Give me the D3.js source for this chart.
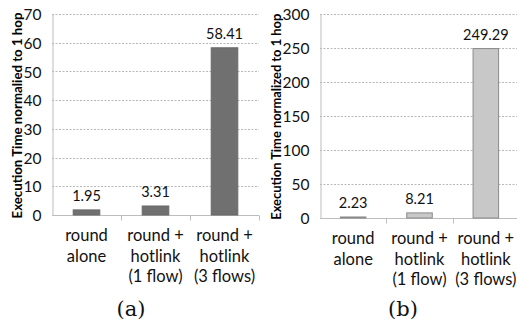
<!DOCTYPE html>
<html>
<head>
<meta charset="utf-8">
<script src="https://cdn.jsdelivr.net/npm/d3@7"></script>
<style>
  html, body { margin: 0; padding: 0; background: #fff; }
  svg text { font-family: Lato, "Open Sans", sans-serif; }
</style>
</head>
<body>
<svg id="chart" width="517" height="328"></svg>
<script>
// Category labels (multi-line) shared by both panels
const categories = ["round alone", "round + hotlink (1 flow)", "round + hotlink (3 flows)"];
const categoryLines = [["round", "alone"], ["round +", "hotlink", "(1 flow)"], ["round +", "hotlink", "(3 flows)"]];

// Panel (a) values and ticks
const valuesA = [1.95, 3.31, 58.41];
const ticksA = [0, 10, 20, 30, 40, 50, 60, 70];

// Panel (b) values and ticks
const valuesB = [2.23, 8.21, 249.29];
const ticksB = [0, 50, 100, 150, 200, 250, 300];

const svg = d3.select("#chart");

function drawPanel(opts) {
  const g = svg.append("g");
  const x = d3.scaleBand().domain(categories).range([opts.left, opts.right]).paddingInner(0.6).paddingOuter(0.3);
  const xEdge = d3.scaleBand().domain(categories).range([opts.left, opts.right]);
  const y = d3.scaleLinear().domain([0, opts.max]).range([opts.bottom, opts.top]);

  // dashed horizontal grid
  g.append("g").selectAll("line").data(opts.ticks.filter(t => t > 0)).join("line")
    .attr("x1", opts.left).attr("x2", opts.right)
    .attr("y1", d => Math.round(y(d)) + 0.5).attr("y2", d => Math.round(y(d)) + 0.5)
    .attr("stroke", "#b8b8b8").attr("stroke-width", 1).attr("stroke-dasharray", "2,1.5");

  // y axis
  const yAxis = g.append("g").attr("transform", `translate(${opts.left + 0.5},0)`)
    .call(d3.axisLeft(y).tickValues(opts.ticks).tickSize(0).tickPadding(11));
  yAxis.select(".domain").attr("stroke", "#bdbdbd");
  yAxis.selectAll("text").attr("font-size", 15.5).attr("fill", "#111").attr("dy", "0.36em");

  // x baseline and category separators
  const base = Math.round(opts.bottom) + 0.5;
  g.append("line").attr("x1", opts.left).attr("x2", opts.right).attr("y1", base).attr("y2", base)
    .attr("stroke", "#bdbdbd");
  g.append("g").selectAll("line").data(categories).join("line")
    .attr("x1", d => Math.round(xEdge(d) + xEdge.bandwidth()) + 0.5)
    .attr("x2", d => Math.round(xEdge(d) + xEdge.bandwidth()) + 0.5)
    .attr("y1", base).attr("y2", base + 5).attr("stroke", "#bdbdbd");

  // bars
  g.append("g").selectAll("rect").data(opts.values).join("rect")
    .attr("x", (d, i) => x(categories[i]) + 0.5)
    .attr("y", d => y(d) + 0.5)
    .attr("width", x.bandwidth() - 1)
    .attr("height", d => Math.max(0, opts.bottom - y(d) - 0.5))
    .attr("fill", opts.fill).attr("stroke", opts.stroke).attr("stroke-width", 1);

  // value labels
  g.append("g").selectAll("text").data(opts.values).join("text")
    .attr("x", (d, i) => x(categories[i]) + x.bandwidth() / 2)
    .attr("y", d => y(d) - 8)
    .attr("text-anchor", "middle").attr("font-size", 14.5).attr("fill", "#111")
    .text(d => d.toFixed(2));

  // category labels
  const cat = g.append("g").selectAll("text").data(categoryLines).join("text")
    .attr("x", (d, i) => xEdge(categories[i]) + xEdge.bandwidth() / 2)
    .attr("y", opts.bottom + 26)
    .attr("text-anchor", "middle").attr("font-size", 16.5).attr("fill", "#111");
  cat.selectAll("tspan").data(d => d).join("tspan")
    .attr("x", function () { return this.parentNode.getAttribute("x"); })
    .attr("dy", (d, i) => i === 0 ? 0 : 20.5)
    .text(d => d);

  // y axis title
  g.append("text")
    .attr("transform", `translate(${opts.titleX},${(opts.top + opts.bottom) / 2 + 1}) rotate(-90)`)
    .attr("text-anchor", "middle").attr("font-size", 13.5).attr("font-weight", "bold").attr("fill", "#000")
    .attr("textLength", 206).attr("lengthAdjust", "spacingAndGlyphs")
    .text(opts.title);

  // panel caption
  svg.append("text")
    .attr("x", opts.captionX).attr("y", 316)
    .attr("text-anchor", "middle")
    .style("font-family", "'DejaVu Serif', 'Liberation Serif', serif")
    .attr("font-size", 21).attr("fill", "#111")
    .text(opts.caption);
}

drawPanel({
  left: 52, right: 259, top: 14, bottom: 215, max: 70,
  ticks: ticksA, values: valuesA,
  fill: "#707070", stroke: "#6a6a6a",
  title: "Execution Time normalied to 1 hop", titleX: 21.5,
  caption: "(a)", captionX: 131
});

drawPanel({
  left: 320, right: 519, top: 13.5, bottom: 218, max: 300,
  ticks: ticksB, values: valuesB,
  fill: "#c8c8c8", stroke: "#8a8a8a",
  title: "Execution Time normalized to 1 hop", titleX: 281,
  caption: "(b)", captionX: 403
});
</script>
</body>
</html>
